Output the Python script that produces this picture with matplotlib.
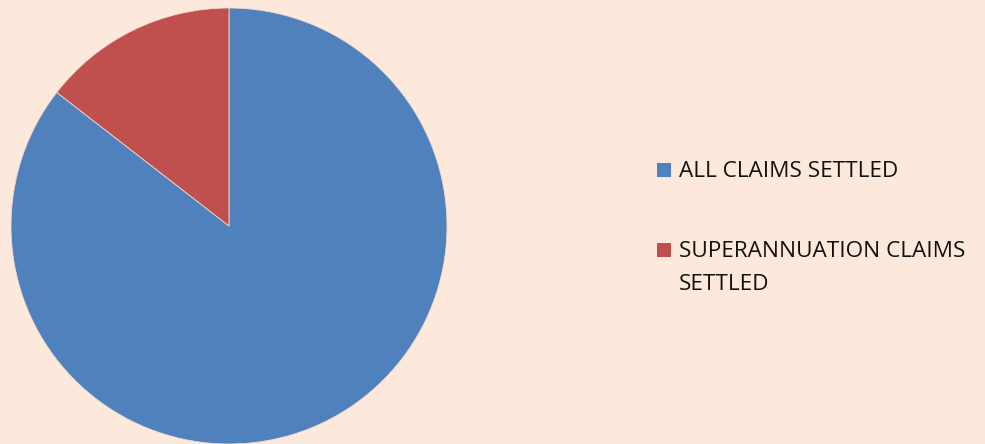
import matplotlib.pyplot as plt
from matplotlib.patches import Rectangle

labels = ["ALL CLAIMS SETTLED", "SUPERANNUATION CLAIMS\nSETTLED"]
shares = [85.5, 14.5]
colors = ["#4F81BD", "#C0504D"]
bg = "#FCE9DB"

plt.rcParams["font.family"] = ["Open Sans", "DejaVu Sans"]

W, H = 985, 444
fig = plt.figure(figsize=(W / 100, H / 100), dpi=100, facecolor=bg)

# pie placed by pixel box: centre (229, 226), radius 218
cx, cy, r = 229, 226, 218
ax = fig.add_axes([(cx - r) / W, (H - cy - r) / H, 2 * r / W, 2 * r / H])
ax.set_facecolor(bg)
wedges, _ = ax.pie(shares, colors=colors, startangle=90, counterclock=False,
                   radius=1, wedgeprops=dict(edgecolor="#F3D9CC", linewidth=0.6))
ax.set_xlim(-1, 1)
ax.set_ylim(-1, 1)
ax.set_aspect("equal")
ax.axis("off")

# legend drawn by hand so the key square sits on the first text line
first_baseline = [177, 257]
line_gap = 33
for lab, col, base in zip(labels, colors, first_baseline):
    fig.add_artist(Rectangle((657 / W, 1 - base / H), 14 / W, 14 / H,
                             transform=fig.transFigure, facecolor=col,
                             edgecolor="none"))
    for i, line in enumerate(lab.split("\n")):
        fig.text(679 / W, 1 - (base + i * line_gap) / H, line,
                 fontsize=16.2, va="baseline", ha="left", color="#111111")

fig.savefig("out.png", dpi=100, facecolor=bg)
